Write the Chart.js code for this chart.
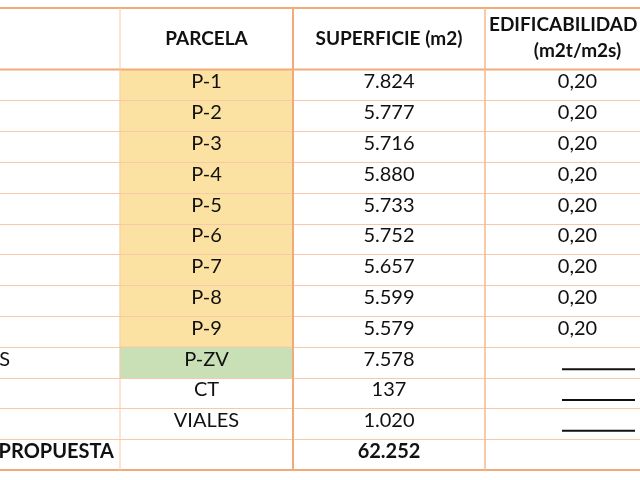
<!DOCTYPE html>
<html>
<head>
<meta charset="utf-8">
<script src="https://cdn.jsdelivr.net/npm/chart.js@4"></script>
<style>
  html, body { margin: 0; padding: 0; background: #fff; }
  #wrap { width: 640px; height: 480px; }
</style>
</head>
<body>
<div id="wrap"><canvas id="tabla"></canvas></div>
<script>
// data
const headers = ['', 'PARCELA', 'SUPERFICIE (m2)', 'EDIFICABILIDAD\n(m2t/m2s)'];
const rowLabels = ['', '', '', '', '', '', '', '', '', 'ZONAS VERDES', '', '', 'TOTAL PROPUESTA'];
const parcelas = ['P-1', 'P-2', 'P-3', 'P-4', 'P-5', 'P-6', 'P-7', 'P-8', 'P-9', 'P-ZV', 'CT', 'VIALES', ''];
const superficie = [7824, 5777, 5716, 5880, 5733, 5752, 5657, 5599, 5579, 7578, 137, 1020];
const edificabilidad = [0.20, 0.20, 0.20, 0.20, 0.20, 0.20, 0.20, 0.20, 0.20, null, null, null, ''];
const tipo = ['lucrativa', 'lucrativa', 'lucrativa', 'lucrativa', 'lucrativa', 'lucrativa', 'lucrativa', 'lucrativa', 'lucrativa', 'verde', 'otro', 'otro', 'total'];

const total = superficie.reduce((a, b) => a + b, 0);

// layout (pixel units on the x scale)
const colEdges = [0, 120, 293, 485, 690];
const slots = ['h', 'h2'].concat(parcelas.map((p, i) => 'r' + i)); // header takes two slots

const fmtMiles = n => String(n).replace(/\B(?=(\d{3})+(?!\d))/g, '.');
const fmtDec = n => n.toFixed(2).replace('.', ',');

// cell fills as floating bars
const fills = slots.map((s, i) => {
    const r = i - 2;
    if (r < 0) return null;
    if (tipo[r] === 'lucrativa' || tipo[r] === 'verde') return [colEdges[1], colEdges[2]];
    return null;
});
const fillColors = slots.map((s, i) => tipo[i - 2] === 'verde' ? '#c9dfb6' : '#fbe2a2');

const FONT = 'Lato, "Open Sans", sans-serif';

const tablePlugin = {
    id: 'tablePlugin',
    afterDatasetsDraw(chart) {
        const ctx = chart.ctx;
        const x = chart.scales.x;
        const y = chart.scales.y;
        const half = (y.getPixelForValue(1) - y.getPixelForValue(0)) / 2;
        const top = y.getPixelForValue(0) - half;
        const headBottom = y.getPixelForValue(1) + half;
        const bottom = y.getPixelForValue(slots.length - 1) + half;
        const px = v => x.getPixelForValue(v);

        ctx.save();
        // horizontal lines
        ctx.strokeStyle = '#f7c9a6';
        ctx.lineWidth = 1;
        for (let i = 3; i < slots.length; i++) {
            const yy = Math.round(y.getPixelForValue(i) - half) + 0.5;
            ctx.beginPath(); ctx.moveTo(0, yy); ctx.lineTo(chart.width, yy); ctx.stroke();
        }
        ctx.strokeStyle = '#f2ab78';
        ctx.lineWidth = 2;
        [top, headBottom, bottom].forEach(yy => {
            ctx.beginPath(); ctx.moveTo(0, yy); ctx.lineTo(chart.width, yy); ctx.stroke();
        });
        // vertical lines
        [[1, 1, '#f7c9a6'], [2, 2, '#f2ab78'], [3, 1.5, '#f4b98c']].forEach(([c, w, col]) => {
            ctx.strokeStyle = col;
            ctx.lineWidth = w;
            ctx.beginPath(); ctx.moveTo(px(colEdges[c]), top); ctx.lineTo(px(colEdges[c]), bottom); ctx.stroke();
        });

        ctx.fillStyle = '#111';
        ctx.textBaseline = 'middle';
        ctx.textAlign = 'center';
        const mid = c => (px(colEdges[c]) + px(colEdges[c + 1])) / 2;
        const headY = (top + headBottom) / 2;

        // header
        ctx.font = 'bold 19px ' + FONT;
        ctx.fillText(headers[1], mid(1), headY);
        ctx.fillText(headers[2], mid(2), headY);
        const edif = headers[3].split('\n');
        ctx.textAlign = 'left';
        ctx.fillText(edif[0], px(colEdges[3]) + 4, headY - 14);
        ctx.textAlign = 'center';
        ctx.fillText(edif[1], mid(3) - 10, headY + 12);

        // body
        parcelas.forEach((p, r) => {
            const yy = y.getPixelForValue(r + 2) - 3;
            const bold = tipo[r] === 'total';
            ctx.font = (bold ? 'bold ' : '') + '20px ' + FONT;
            ctx.textAlign = 'right';
            if (rowLabels[r]) ctx.fillText(rowLabels[r], bold ? px(colEdges[1]) - 6 : 10, yy);
            ctx.textAlign = 'center';
            ctx.fillText(p, mid(1), yy);
            ctx.fillText(fmtMiles(bold ? total : superficie[r]), mid(2), yy);
            const e = edificabilidad[r];
            if (typeof e === 'number') {
                ctx.fillText(fmtDec(e), mid(3) - 10, yy);
            } else if (e === null) {
                ctx.strokeStyle = '#111';
                ctx.lineWidth = 2;
                ctx.beginPath(); ctx.moveTo(562, yy + 10); ctx.lineTo(635, yy + 10); ctx.stroke();
            }
        });
        ctx.restore();
    }
};

new Chart(document.getElementById('tabla'), {
    type: 'bar',
    data: {
        labels: slots,
        datasets: [{
            data: fills,
            backgroundColor: fillColors,
            borderWidth: 0,
            barPercentage: 1,
            categoryPercentage: 1
        }]
    },
    options: {
        indexAxis: 'y',
        responsive: true,
        maintainAspectRatio: false,
        animation: false,
        layout: { padding: { top: 8, bottom: 10, left: 0, right: 0 } },
        scales: {
            x: { type: 'linear', min: 0, max: 640, display: false },
            y: { type: 'category', display: false }
        },
        plugins: {
            legend: { display: false },
            tooltip: { enabled: false }
        }
    },
    plugins: [tablePlugin]
});
</script>
</body>
</html>
